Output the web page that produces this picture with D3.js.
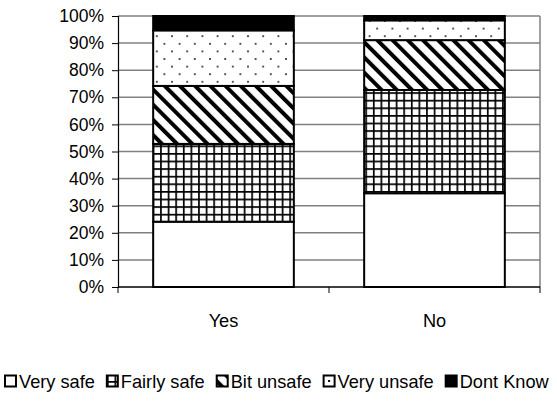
<!DOCTYPE html>
<html><head><meta charset="utf-8">
<script src="https://cdn.jsdelivr.net/npm/d3@7"></script>
<style>body{margin:0;background:#fff}svg{display:block;font-family:"Liberation Sans",Arial,sans-serif}</style>
</head><body><svg id="c" width="557" height="401"></svg>
<script>
const categories = ["Yes", "No"];
const seriesNames = ["Very safe", "Fairly safe", "Bit unsafe", "Very unsafe", "Dont Know"];
const verySafe   = [24.1, 34.6];
const fairlySafe = [28.7, 38.1];
const bitUnsafe  = [21.4, 18.4];
const veryUnsafe = [20.5, 7.3];
const dontKnow   = [5.3, 1.6];
const yTicks = [0, 10, 20, 30, 40, 50, 60, 70, 80, 90, 100];

const seriesValues = [verySafe, fairlySafe, bitUnsafe, veryUnsafe, dontKnow];
const rows = categories.map((c, i) => {
  const r = {cat: c};
  seriesNames.forEach((s, j) => r[s] = seriesValues[j][i]);
  return r;
});

const FS = 18.2;
const svg = d3.select("#c");
const L = 118, R = 540, T = 16, B = 287;
const x = d3.scaleBand().domain(categories).range([L, R]).paddingInner(1/3).paddingOuter(1/6);
const y = d3.scaleLinear().domain([0, 100]).range([B, T]);

// patterns
const defs = svg.append("defs");
const u = 7.6;
const pg = defs.append("pattern").attr("id", "p1").attr("patternUnits", "userSpaceOnUse")
  .attr("width", u).attr("height", u).attr("x", 0.5).attr("y", 1);
pg.append("rect").attr("width", u).attr("height", u).attr("fill", "#fff");
pg.append("rect").attr("width", 1.7).attr("height", u).attr("fill", "#000");
pg.append("rect").attr("width", u).attr("height", 1.7).attr("fill", "#000");

const ps = defs.append("pattern").attr("id", "p2").attr("patternUnits", "userSpaceOnUse")
  .attr("width", 2*u/Math.SQRT2).attr("height", 20).attr("patternTransform", "rotate(-45)");
ps.append("rect").attr("width", 2*u/Math.SQRT2).attr("height", 20).attr("fill", "#fff");
ps.append("rect").attr("width", 4).attr("height", 20).attr("fill", "#000");

const pd = defs.append("pattern").attr("id", "p3").attr("patternUnits", "userSpaceOnUse")
  .attr("width", 2*u).attr("height", 2*u).attr("x", 1).attr("y", 2);
pd.append("rect").attr("width", 2*u).attr("height", 2*u).attr("fill", "#fff");
pd.append("circle").attr("cx", u/2).attr("cy", u/2).attr("r", 1).attr("fill", "#222");
pd.append("circle").attr("cx", u*1.5).attr("cy", u*1.5).attr("r", 1).attr("fill", "#222");

const fills = ["#fff", "url(#p1)", "url(#p2)", "url(#p3)", "#000"];

// gridlines
svg.append("g").selectAll("line").data(yTicks.filter(d => d > 0)).join("line")
  .attr("x1", L).attr("x2", R).attr("y1", d => y(d)).attr("y2", d => y(d))
  .attr("stroke", "#808080").attr("stroke-width", 1.5);
svg.append("line").attr("x1", R).attr("x2", R).attr("y1", T).attr("y2", B)
  .attr("stroke", "#808080").attr("stroke-width", 1.5);

// stacked bars
const stack = d3.stack().keys(seriesNames)(rows);
svg.append("g").selectAll("g").data(stack).join("g")
  .attr("fill", (d, i) => fills[i])
  .selectAll("rect").data(d => d).join("rect")
  .attr("x", d => x(d.data.cat)).attr("width", x.bandwidth())
  .attr("y", d => y(d[1])).attr("height", d => y(d[0]) - y(d[1]))
  .attr("stroke", "#000").attr("stroke-width", 2);

// y axis
const ya = svg.append("g").attr("transform", `translate(${L},0)`)
  .call(d3.axisLeft(y).tickValues(yTicks).tickFormat(d => d + "%").tickSize(6).tickPadding(8));
ya.select(".domain").attr("stroke", "#000").attr("stroke-width", 1.2);
ya.selectAll(".tick line").attr("stroke", "#000");
ya.selectAll("text").attr("font-size", 17.5).attr("fill", "#000").attr("font-family", "Liberation Sans, Arial, sans-serif");

// x axis
svg.append("line").attr("x1", L).attr("x2", R).attr("y1", B).attr("y2", B).attr("stroke", "#000").attr("stroke-width", 1.5);
const xTickPos = [L, (x("Yes") + x.bandwidth() + x("No")) / 2, R];
svg.append("g").selectAll("line").data(xTickPos).join("line")
  .attr("x1", d => d).attr("x2", d => d).attr("y1", B).attr("y2", B + 6).attr("stroke", "#000");
svg.append("g").selectAll("text").data(categories).join("text")
  .attr("x", d => x(d) + x.bandwidth()/2).attr("y", 327)
  .attr("text-anchor", "middle").attr("font-size", FS).text(d => d);

// legend
const lg = svg.append("g");
let lx = 4;
seriesNames.forEach((s, i) => {
  lg.append("rect").attr("x", lx + 1).attr("y", 375.5).attr("width", 11).attr("height", 11)
    .attr("fill", i === 3 ? "#fff" : fills[i]).attr("stroke", "#000").attr("stroke-width", 2);
  if (i === 3) lg.append("rect").attr("x", lx + 5.5).attr("y", 380).attr("width", 2).attr("height", 2).attr("fill", "#000");
  const t = lg.append("text").attr("x", lx + 15).attr("y", 388).attr("font-size", FS).text(s);
  lx += 15 + t.node().getComputedTextLength() + 11;
});
</script></body></html>
